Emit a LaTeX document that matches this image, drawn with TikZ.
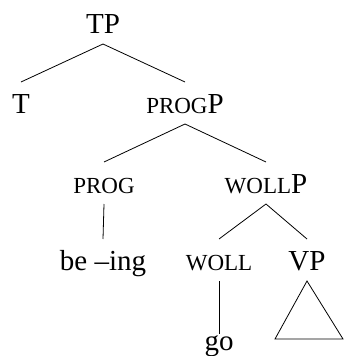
\documentclass[tikz,border=0pt]{standalone}
\usepackage{fontspec}
\setmainfont{Liberation Serif}
\newcommand{\smc}[1]{{\fontsize{23pt}{23pt}\selectfont #1}}
\begin{document}
\begin{tikzpicture}[x=1pt,y=-1pt,
  lab/.style={anchor=base,inner xsep=0pt,inner ysep=11pt,outer sep=0pt,
    text height=20pt,text depth=0pt,font=\fontsize{29pt}{29pt}\selectfont},
  edge/.style={draw=black,line width=0.8pt}]
\useasboundingbox (0,0) rectangle (344,356);
\node[lab] (TP) at (103,33) {TP};
\node[lab] (T) at (21,113) {T};
\node[lab] (progP) at (185,113) {\smc{PROG}P};
\node[lab] (prog) at (104,193) {\smc{PROG}};
\node[lab] (wollP) at (266,193) {\smc{WOLL}P};
\node[lab] (being) at (103,270) {be –ing};
\node[lab] (woll) at (219,270) {\smc{WOLL}};
\node[lab] (VP) at (307,270) {VP};
\node[lab,text height=13pt,inner ysep=3pt] (go) at (219,350) {go};
\draw[edge] (TP.south) -- (T.north);
\draw[edge] (TP.south) -- (progP.north);
\draw[edge] (progP.south) -- (prog.north);
\draw[edge] (progP.south) -- (wollP.north);
\draw[edge] (prog.south) -- (being.north);
\draw[edge] (wollP.south) -- (woll.north);
\draw[edge] (wollP.south) -- (VP.north);
\draw[edge] (woll.south) -- (go.north);
\draw[edge,line join=miter] (VP.south) -- ++(-32,58) -- ++(68,0) -- cycle;
\end{tikzpicture}
\end{document}
